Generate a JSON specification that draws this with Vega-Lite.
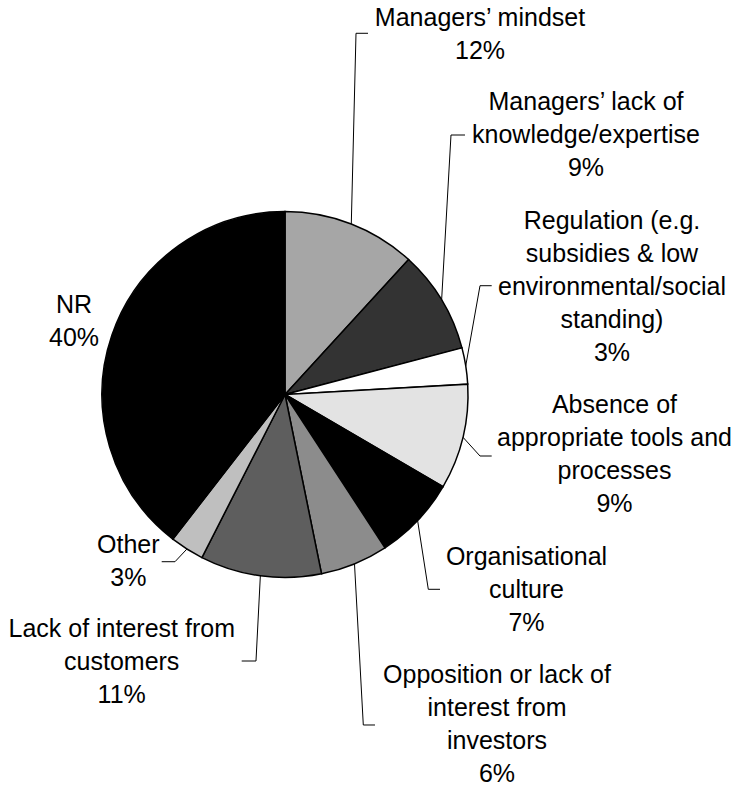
{
  "$schema": "https://vega.github.io/schema/vega-lite/v6.json",
  "width": 744,
  "height": 789,
  "autosize": {"type": "none"},
  "padding": 0,
  "background": "white",
  "config": {"view": {"stroke": null}},
  "data": {
    "values": [
      {"category": "Managers’ mindset", "value": 11.8},
      {"category": "Managers’ lack of\nknowledge/expertise", "value": 9.1},
      {"category": "Regulation (e.g.\nsubsidies & low\nenvironmental/social\nstanding)", "value": 3.2},
      {"category": "Absence of\nappropriate tools and\nprocesses", "value": 9.3},
      {"category": "Organisational\nculture", "value": 7.4},
      {"category": "Opposition or lack of\ninterest from\ninvestors", "value": 6.0},
      {"category": "Lack of interest from\ncustomers", "value": 10.7},
      {"category": "Other", "value": 3.0},
      {"category": "NR", "value": 39.5}
    ]
  },
  "transform": [
    {"window": [{"op": "row_number", "as": "idx"}, {"op": "sum", "field": "value", "as": "cum"}], "frame": [null, 0]},
    {"calculate": "2*PI*(datum.cum - datum.value/2)/100", "as": "mid"},
    {"calculate": "sin(datum.mid)", "as": "ex"},
    {"calculate": "cos(datum.mid)", "as": "ey"},
    {"calculate": "[1.0656, 1.6448, 1.7869, 1.8005, 1.3197, 1.1585, -0.8923, -0.8563, -1.1530][datum.idx-1]", "as": "lx"},
    {"calculate": "[2.0137, 1.5546, 0.9044, -0.1011, -0.9317, -1.5765, -1.3251, -0.8661, 0.4454][datum.idx-1]", "as": "ly"},
    {"calculate": "[0.3880, 0.9071, 1.0656, 1.0656, 0.7831, 0.4279, -0.1585, -0.6011, 0][datum.idx-1]", "as": "bx"},
    {"calculate": "[1.9738, 1.4180, 0.5945, -0.3361, -1.0645, -1.8060, -1.4563, -0.9137, 0][datum.idx-1]", "as": "by"},
    {"calculate": "[0.4536, 0.9836, 1.1295, 1.1295, 0.8470, 0.4918, -0.2366, -0.6738, 0][datum.idx-1]", "as": "tx"},
    {"calculate": "datum.category + '\\n' + format(datum.value, '.0f') + '%'", "as": "label"}
  ],
  "layer": [
    {
      "mark": {"type": "arc", "radius": 183, "stroke": "black", "strokeWidth": 1.5},
      "encoding": {
        "theta": {"field": "value", "type": "quantitative", "stack": true},
        "order": {"field": "idx", "type": "quantitative"},
        "color": {
          "field": "category",
          "type": "nominal",
          "legend": null,
          "scale": {
            "domain": [
              "Managers’ mindset",
              "Managers’ lack of\nknowledge/expertise",
              "Regulation (e.g.\nsubsidies & low\nenvironmental/social\nstanding)",
              "Absence of\nappropriate tools and\nprocesses",
              "Organisational\nculture",
              "Opposition or lack of\ninterest from\ninvestors",
              "Lack of interest from\ncustomers",
              "Other",
              "NR"
            ],
            "range": ["#a6a6a6", "#333333", "#ffffff", "#e3e3e3", "#000000", "#8c8c8c", "#5e5e5e", "#bfbfbf", "#000000"]
          }
        },
        "x": {"datum": 0, "type": "quantitative", "scale": {"domain": [-1.557377, 2.508197], "nice": false, "zero": false}, "axis": null},
        "y": {"datum": 0, "type": "quantitative", "scale": {"domain": [-2.155738, 2.155738], "nice": false, "zero": false}, "axis": null}
      }
    },
    {
      "transform": [{"filter": "datum.idx < 9"}],
      "mark": {"type": "rule", "color": "black", "strokeWidth": 1},
      "encoding": {
        "x": {"field": "ex", "type": "quantitative", "scale": {"domain": [-1.557377, 2.508197], "nice": false, "zero": false}, "axis": null},
        "y": {"field": "ey", "type": "quantitative", "scale": {"domain": [-2.155738, 2.155738], "nice": false, "zero": false}, "axis": null},
        "x2": {"field": "bx"},
        "y2": {"field": "by"}
      }
    },
    {
      "transform": [{"filter": "datum.idx < 9"}],
      "mark": {"type": "rule", "color": "black", "strokeWidth": 1},
      "encoding": {
        "x": {"field": "bx", "type": "quantitative", "scale": {"domain": [-1.557377, 2.508197], "nice": false, "zero": false}, "axis": null},
        "y": {"field": "by", "type": "quantitative", "scale": {"domain": [-2.155738, 2.155738], "nice": false, "zero": false}, "axis": null},
        "x2": {"field": "tx"},
        "y2": {"field": "by"}
      }
    },
    {
      "mark": {"type": "text", "font": "Liberation Sans", "fontSize": 25, "lineHeight": 33, "lineBreak": "\n", "align": "center", "baseline": "alphabetic", "color": "black"},
      "encoding": {
        "x": {"field": "lx", "type": "quantitative", "scale": {"domain": [-1.557377, 2.508197], "nice": false, "zero": false}, "axis": null},
        "y": {"field": "ly", "type": "quantitative", "scale": {"domain": [-2.155738, 2.155738], "nice": false, "zero": false}, "axis": null},
        "text": {"field": "label"}
      }
    }
  ]
}
